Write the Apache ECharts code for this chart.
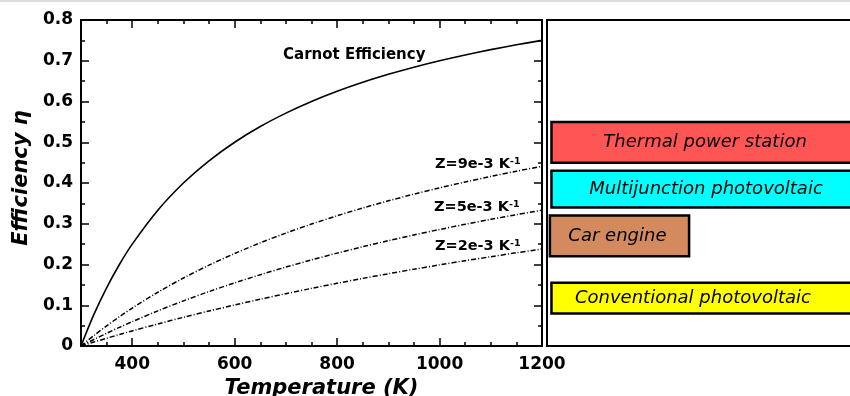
<!DOCTYPE html>
<html>
<head>
<meta charset="utf-8">
<script src="https://cdn.jsdelivr.net/npm/echarts@6/dist/echarts.min.js"></script>
<style>html,body{margin:0;padding:0;background:#fff;}#c{width:850px;height:396px;}</style>
</head>
<body>
<div id="c"></div>
<script>
// ---- data ----
const temps  = [300, 325, 350, 375, 400, 450, 500, 550, 600, 650, 700, 750, 800, 850, 900, 950, 1000, 1050, 1100, 1150, 1200];
const carnot = [0, 0.0769, 0.1429, 0.2, 0.25, 0.3333, 0.4, 0.4545, 0.5, 0.5385, 0.5714, 0.6, 0.625, 0.6471, 0.6667, 0.6842, 0.7, 0.7143, 0.7273, 0.7391, 0.75];
const zHigh  = [0, 0.0255, 0.0494, 0.0719, 0.093, 0.1319, 0.1668, 0.1984, 0.227, 0.2532, 0.2771, 0.2992, 0.3196, 0.3386, 0.3562, 0.3727, 0.3881, 0.4025, 0.4161, 0.4289, 0.441];
const zMid   = [0, 0.0159, 0.0311, 0.0457, 0.0597, 0.0862, 0.1107, 0.1336, 0.1549, 0.1749, 0.1936, 0.2112, 0.2279, 0.2436, 0.2584, 0.2725, 0.2859, 0.2986, 0.3108, 0.3223, 0.3333];
const zLow   = [0, 0.0096, 0.019, 0.0281, 0.037, 0.0541, 0.0704, 0.0859, 0.1007, 0.1149, 0.1284, 0.1414, 0.1539, 0.1659, 0.1773, 0.1884, 0.1991, 0.2093, 0.2192, 0.2288, 0.238];
const xTickLabels = [400, 600, 800, 1000, 1200];
const techNames = ['Thermal power station', 'Multijunction photovoltaic', 'Car engine', 'Conventional photovoltaic'];
const techLow   = [0.45, 0.34, 0.22, 0.08];
const techHigh  = [0.55, 0.43, 0.32, 0.155];

// ---- styles / layout ----
const techColors = ['#ff5555', '#00ffff', '#d28a5e', '#ffff00'];
const boxStart = [0.014, 0.014, 0.009, 0.014];
const boxEnd   = [1.05, 1.05, 0.444, 1.05];
const labelX   = [0.494, 0.497, 0.22, 0.456];
const FONT = '"DejaVu Sans", Verdana, sans-serif';

const pairs = arr => temps.map((t, i) => [t, arr[i]]);
const lineSeries = (name, arr, type, w) => ({
  name, type: 'line', xAxisIndex: 0, yAxisIndex: 0, data: pairs(arr),
  smooth: 0.3, showSymbol: false, symbol: 'none', animation: false,
  lineStyle: { color: '#000', width: w, type: type }
});

const tickStyle = { color: '#000', width: 1.5 };
const plainNum = v => String(v);
const zRich = { a: { font: 'bold 14.5px ' + FONT, fill: '#000' }, b: { font: 'bold 9.5px ' + FONT, fill: '#000', verticalAlign: 'top' } };
const chart = echarts.init(document.getElementById('c'), null, { renderer: 'canvas' });
chart.setOption({
  animation: false,
  backgroundColor: '#fff',
  textStyle: { fontFamily: FONT },
  grid: [
    { left: 81, top: 20, width: 461, height: 326, containLabel: false, outerBoundsMode: 'none',
      show: true, borderColor: '#000', borderWidth: 2, backgroundColor: 'transparent' },
    { left: 547, top: 20, width: 320, height: 326, containLabel: false, outerBoundsMode: 'none',
      show: true, borderColor: '#000', borderWidth: 2, backgroundColor: 'transparent' }
  ],
  xAxis: [
    { type: 'value', gridIndex: 0, min: 300, max: 1200, position: 'bottom',
      axisLine: { show: false }, splitLine: { show: false },
      axisTick: { show: true, inside: true, length: 8, lineStyle: tickStyle, customValues: xTickLabels },
      axisLabel: { show: true, customValues: xTickLabels, formatter: plainNum, color: '#000', fontSize: 17, fontWeight: 'bold', fontFamily: FONT, margin: 10 },
      name: 'Temperature (K)', nameLocation: 'middle', nameGap: 30,
      nameTextStyle: { color: '#000', fontSize: 21, fontWeight: 'bold', fontStyle: 'italic', fontFamily: FONT, padding: [0, 0, 0, 20] } },
    { type: 'value', gridIndex: 0, min: 300, max: 1200, interval: 50, position: 'bottom',
      axisLine: { show: false }, splitLine: { show: false }, axisLabel: { show: false },
      axisTick: { show: true, inside: true, length: 4, lineStyle: tickStyle } },
    { type: 'value', gridIndex: 0, min: 300, max: 1200, position: 'top',
      axisLine: { show: false }, splitLine: { show: false }, axisLabel: { show: false },
      axisTick: { show: true, inside: true, length: 8, lineStyle: tickStyle, customValues: xTickLabels } },
    { type: 'value', gridIndex: 0, min: 300, max: 1200, interval: 50, position: 'top',
      axisLine: { show: false }, splitLine: { show: false }, axisLabel: { show: false },
      axisTick: { show: true, inside: true, length: 4, lineStyle: tickStyle } },
    { type: 'value', gridIndex: 1, min: 0, max: 1, show: false }
  ],
  yAxis: [
    { type: 'value', gridIndex: 0, min: 0, max: 0.8, interval: 0.1, position: 'left',
      axisLine: { show: false }, splitLine: { show: false },
      axisTick: { show: true, inside: true, length: 8, lineStyle: tickStyle },
      minorTick: { show: true, splitNumber: 2, length: 4, lineStyle: tickStyle },
      axisLabel: { formatter: plainNum, color: '#000', fontSize: 17, fontWeight: 'bold', fontFamily: FONT, margin: 8 },
      name: 'Efficiency η', nameLocation: 'middle', nameGap: 48, nameRotate: 90,
      nameTextStyle: { color: '#000', fontSize: 21, fontWeight: 'bold', fontStyle: 'italic', fontFamily: FONT, padding: [0, 0, 0, 10] } },
    { type: 'value', gridIndex: 0, min: 0, max: 0.8, interval: 0.1, position: 'right',
      axisLine: { show: false }, splitLine: { show: false }, axisLabel: { show: false },
      axisTick: { show: true, inside: true, length: 8, lineStyle: tickStyle },
      minorTick: { show: true, splitNumber: 2, length: 4, lineStyle: tickStyle } },
    { type: 'value', gridIndex: 1, min: 0, max: 0.8, show: false }
  ],
  series: [
    lineSeries('Carnot Efficiency', carnot, 'solid', 1.6),
    lineSeries('Z=9e-3', zHigh, [5, 2, 1, 2], 1.5),
    lineSeries('Z=5e-3', zMid, [5, 2, 1, 2], 1.5),
    lineSeries('Z=2e-3', zLow, [5, 2, 1, 2], 1.5),
    { type: 'custom', xAxisIndex: 4, yAxisIndex: 2, clip: false, animation: false,
      data: techNames.map((n, i) => [i, techLow[i], techHigh[i]]),
      renderItem: function (params, api) {
        const i = api.value(0);
        const p0 = api.coord([boxStart[i], api.value(2)]);
        const p1 = api.coord([boxEnd[i], api.value(1)]);
        const pl = api.coord([labelX[i], api.value(1)]);
        return { type: 'group', children: [
          { type: 'rect', shape: { x: p0[0], y: p0[1], width: p1[0] - p0[0], height: p1[1] - p0[1] },
            style: { fill: techColors[i], stroke: '#000', lineWidth: 2.5 } },
          { type: 'text', style: { text: techNames[i], x: pl[0], y: (p0[1] + p1[1]) / 2, align: 'center', verticalAlign: 'middle',
            font: 'italic 18px ' + FONT, fill: '#000' } }
        ] };
      } }
  ],
  graphic: [
    { type: 'line', shape: { x1: 0, y1: 1, x2: 850, y2: 1 }, style: { stroke: '#dddddd', lineWidth: 2 }, silent: true },
    { type: 'text', left: 283, top: 48, style: { text: 'Carnot Efficiency', font: 'bold 15px ' + FONT, fill: '#000' } },
    { type: 'text', left: 435, top: 157, style: { text: '{a|Z=9e-3 K}{b|-1}', fill: '#000', rich: zRich } },
    { type: 'text', left: 434, top: 200, style: { text: '{a|Z=5e-3 K}{b|-1}', fill: '#000', rich: zRich } },
    { type: 'text', left: 435, top: 239, style: { text: '{a|Z=2e-3 K}{b|-1}', fill: '#000', rich: zRich } }
  ]
});
</script>
</body>
</html>
